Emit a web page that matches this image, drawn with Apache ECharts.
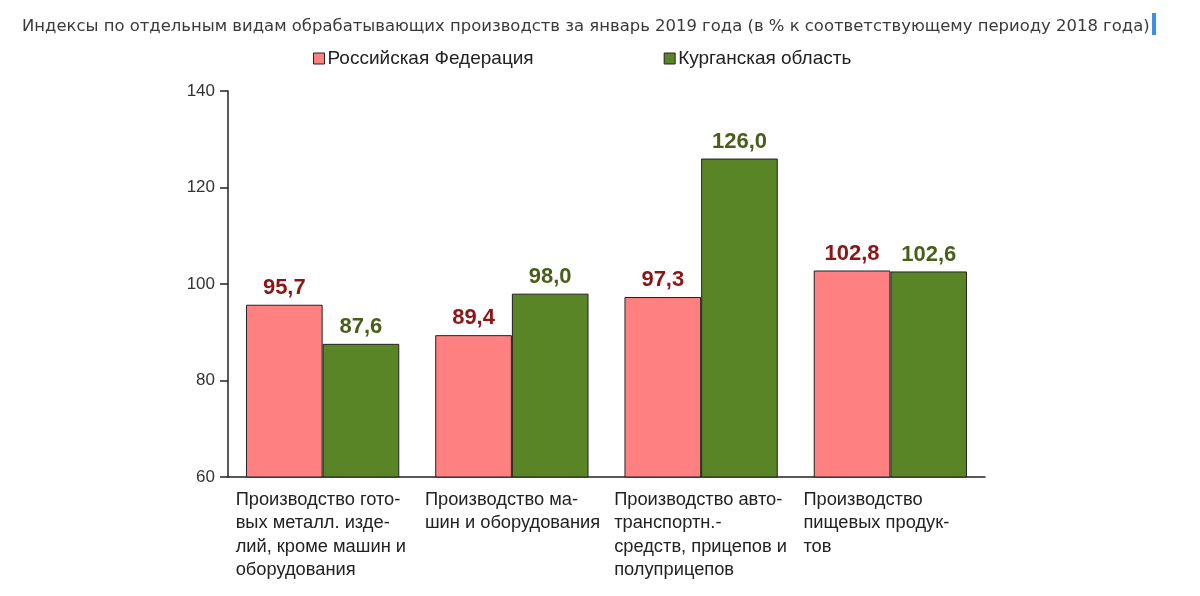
<!DOCTYPE html>
<html>
<head>
<meta charset="utf-8">
<script src="https://cdn.jsdelivr.net/npm/echarts@6/dist/echarts.min.js"></script>
<style>
  html, body { margin: 0; padding: 0; background: #fff; }
  #chart { width: 1200px; height: 596px; }
</style>
</head>
<body>
<div id="chart"></div>
<script>
  const titleText = 'Индексы по отдельным видам обрабатывающих производств за январь 2019 года (в % к соответствующему периоду 2018 года)'
  const categories = [
    'Производство гото-\nвых металл. изде-\nлий, кроме машин и\nоборудования',
    'Производство ма-\nшин и оборудования',
    'Производство авто-\nтранспортн.-\nсредств, прицепов и\nполуприцепов',
    'Производство\nпищевых продук-\nтов'
  ]
  const seriesNames = ['Российская Федерация', 'Курганская область']
  const russiaValues = [95.7, 89.4, 97.3, 102.8]
  const kurganValues = [87.6, 98.0, 126.0, 102.6]

  const chart = echarts.init(document.getElementById('chart'))

  const fmt = (p) => p.value.toFixed(1).replace('.', ',')

  const option = {
    animation: false,
    backgroundColor: '#fff',
    textStyle: { fontFamily: 'Liberation Sans, Arial, sans-serif' },
    title: {
      text: titleText,
      left: 17,
      top: 14,
      textStyle: {
        fontFamily: 'DejaVu Sans, sans-serif',
        fontSize: 16.45,
        fontWeight: 'normal',
        color: '#3a3a3a'
      }
    },
    legend: {
      data: seriesNames,
      top: 44,
      left: 308,
      icon: 'rect',
      itemWidth: 11,
      itemHeight: 11,
      itemGap: 130,
      itemStyle: { borderColor: '#222', borderWidth: 1 },
      textStyle: { fontSize: 19, color: '#222', padding: [0, 0, 0, -2] }
    },
    grid: {
      left: 228,
      right: 215,
      top: 91,
      bottom: 119,
      containLabel: false
    },
    xAxis: {
      type: 'category',
      data: categories,
      axisLine: { lineStyle: { color: '#222', width: 1.5 } },
      axisTick: { interval: 0, length: 8, lineStyle: { color: '#222', width: 1.5 } },
      axisLabel: {
        interval: 0,
        margin: 11,
        formatter: (v) => v.split('\n').map(l => '{a|' + l + '}').join('\n'),
        rich: {
          a: {
            width: 174,
            align: 'left',
            fontSize: 18.3,
            lineHeight: 23.5,
            color: '#222'
          }
        }
      }
    },
    yAxis: {
      type: 'value',
      min: 60,
      max: 140,
      interval: 20,
      splitLine: { show: false },
      axisLine: { show: true, lineStyle: { color: '#222', width: 1.5 } },
      axisTick: { show: true, length: 8, lineStyle: { color: '#222', width: 1.5 } },
      axisLabel: { fontSize: 17, color: '#333', margin: 13 }
    },
    series: [
      {
        name: seriesNames[0],
        type: 'bar',
        data: russiaValues,
        barGap: '0%',
        barCategoryGap: '19%',
        itemStyle: { color: '#ff8080', borderColor: '#222', borderWidth: 1 },
        label: {
          show: true,
          position: 'top',
          distance: 6,
          formatter: fmt,
          fontSize: 22,
          fontWeight: 'bold',
          color: '#8b1616'
        }
      },
      {
        name: seriesNames[1],
        type: 'bar',
        data: kurganValues,
        itemStyle: { color: '#5a8527', borderColor: '#222', borderWidth: 1 },
        label: {
          show: true,
          position: 'top',
          distance: 6,
          formatter: fmt,
          fontSize: 22,
          fontWeight: 'bold',
          color: '#4a5e1c'
        }
      }
    ],
    graphic: [
      {
        type: 'rect',
        left: 1152,
        top: 13,
        shape: { width: 4, height: 22 },
        style: { fill: '#3d8fe6' }
      }
    ]
  }

  chart.setOption(option)
  window.addEventListener('resize', function () {
    chart.resize()
  })
</script>
</body>
</html>
